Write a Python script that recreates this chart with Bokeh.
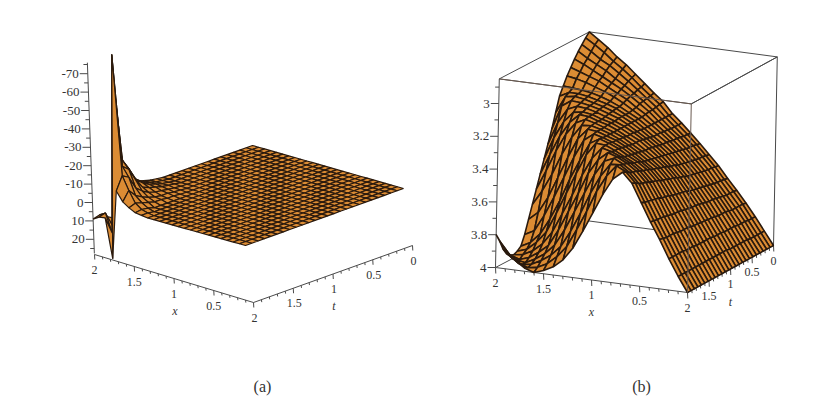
from bokeh.plotting import figure
from bokeh.models import Range1d
from bokeh.core.properties import value
from bokeh.embed import file_html
from bokeh.resources import INLINE
import numpy as np

# ---------- panel (a): z, t=2.00 first, x=2.00 first; the rest is the flat plateau 0
A_T200 = [9, 7, 6.5, 27.7, -10, -5, -2.7, -1, -.5]
A_T192 = [8, 6, 16, -82, -17, -10, -4, -1.5, -.5]
A_T184 = [10, 14, -67, -20, -15, -6, -3, -1]
A_T176 = [12, -36, -21, -17, -8, -4, -2]
A_T168 = [-13, -18, -15, -10, -5, -2.5, -1]
A_T160 = [-9, -10, -8, -5, -3, -1.5, -1]
A_T152 = [-5, -6, -5, -3.5, -2, -1, -.5]
A_T144 = [-3, -3.5, -3, -2.5, -1.5, -1, -.5]
A_T136 = [-2, -2, -2, -1.5, -1, -.5, -.2]
A_T128 = [-1, -1, -1, -1, -.5, -.3]
A_T120 = [-.5, -.5, -.5, -.5, -.2]
A_ROWS = [A_T200, A_T192, A_T184, A_T176, A_T168, A_T160, A_T152, A_T144, A_T136, A_T128, A_T120]
A_CELLS = 25
A_Z_TICKS = [-70, -60, -50, -40, -30, -20, -10, 0, 10, 20]
A_Z_MINOR = [-75, -65, -55, -45, -35, -25, -15, -5, 5, 15, 25]
A_Z_SPAN = [-76, 27.7]

# ---------- panel (b): distance below z=4; x = 0.0 ... 2.0 in each row
B_T000 = [0, .08, .16, .235, .305, .37, .44, .50, .56, .615, .67, .72, .785, .83, .88, .93, .98, 1.02, 1.07, 1.11, 1.15]
B_T008 = [0, .08, .16, .24, .31, .375, .445, .505, .565, .62, .67, .72, .78, .825, .87, .92, .965, 1.005, 1.05, 1.09, 1.125]
B_T016 = [0, .08, .16, .24, .31, .38, .45, .51, .57, .62, .67, .72, .775, .82, .865, .91, .95, .99, 1.02, 1.06, 1.095]
B_T024 = [0, .08, .165, .24, .31, .38, .45, .51, .57, .625, .67, .72, .77, .815, .855, .895, .93, .97, 1.00, 1.03, 1.065]
B_T032 = [0, .08, .165, .24, .315, .385, .455, .515, .575, .63, .675, .72, .77, .81, .85, .885, .915, .945, .975, 1.005, 1.03]
B_T040 = [0, .085, .165, .245, .32, .39, .46, .52, .58, .63, .675, .72, .765, .80, .84, .87, .90, .93, .95, .97, .99]
B_T048 = [0, .085, .17, .25, .325, .395, .465, .525, .585, .635, .68, .72, .76, .795, .83, .86, .885, .905, .925, .94, .95]
B_T056 = [0, .085, .17, .25, .33, .40, .47, .53, .59, .64, .68, .72, .76, .79, .82, .845, .865, .88, .89, .895, .90]
B_T064 = [0, .085, .17, .25, .33, .405, .475, .535, .595, .64, .68, .72, .76, .79, .82, .84, .855, .87, .88, .88, .85]
B_T072 = [0, .085, .17, .255, .335, .41, .48, .54, .60, .645, .685, .725, .76, .79, .815, .835, .85, .865, .875, .865, .76]
B_T080 = [0, .085, .175, .26, .34, .415, .49, .55, .605, .65, .69, .725, .76, .79, .81, .83, .845, .855, .86, .82, .67]
B_T088 = [0, .09, .175, .26, .345, .42, .495, .555, .61, .655, .695, .73, .76, .785, .805, .825, .84, .845, .82, .73, .59]
B_T096 = [0, .09, .175, .265, .35, .43, .505, .565, .615, .66, .70, .73, .76, .785, .80, .82, .83, .82, .755, .65, .51]
B_T104 = [0, .09, .18, .265, .35, .435, .515, .575, .62, .66, .70, .73, .76, .785, .80, .82, .825, .77, .68, .56, .43]
B_T112 = [0, .09, .18, .27, .355, .44, .52, .58, .625, .665, .70, .735, .76, .78, .80, .815, .785, .71, .60, .47, .35]
B_T120 = [0, .09, .18, .27, .36, .445, .53, .59, .63, .67, .705, .735, .76, .78, .795, .79, .71, .60, .47, .36, .27]
B_T128 = [0, .09, .18, .275, .365, .45, .535, .595, .635, .675, .71, .74, .76, .78, .785, .72, .60, .47, .34, .24, .19]
B_T136 = [0, .09, .18, .28, .37, .46, .545, .605, .645, .68, .715, .74, .76, .775, .73, .62, .49, .36, .24, .14, .11]
B_T144 = [0, .09, .185, .28, .37, .465, .555, .615, .655, .685, .72, .745, .765, .73, .62, .50, .36, .24, .14, .08, .05]
B_T152 = [0, .09, .185, .28, .375, .47, .56, .62, .66, .69, .72, .745, .75, .67, .55, .42, .29, .17, .10, .05, .03]
B_T160 = [0, .09, .185, .285, .38, .48, .57, .63, .67, .70, .725, .74, .67, .56, .43, .31, .19, .11, .06, .03, .02]
B_T168 = [0, .09, .19, .29, .385, .485, .58, .64, .68, .71, .73, .68, .59, .46, .34, .22, .12, .07, .03, .01, .03]
B_T176 = [0, .09, .19, .29, .39, .49, .585, .645, .685, .715, .69, .60, .48, .36, .24, .14, .08, .04, .01, .02, .05]
B_T184 = [0, .09, .19, .29, .39, .495, .595, .655, .695, .69, .61, .50, .37, .25, .15, .09, .05, .02, .01, .04, .09]
B_T192 = [0, .09, .19, .295, .395, .50, .61, .67, .70, .63, .53, .40, .28, .17, .10, .05, .02, .01, .03, .08, .15]
B_T200 = [0, .09, .19, .30, .40, .51, .62, .68, .63, .53, .41, .29, .18, .10, .05, .02, 0, .02, .06, .11, .20]
B_ROWS = [B_T000, B_T008, B_T016, B_T024, B_T032, B_T040, B_T048, B_T056, B_T064, B_T072, B_T080, B_T088, B_T096,
          B_T104, B_T112, B_T120, B_T128, B_T136, B_T144, B_T152, B_T160, B_T168, B_T176, B_T184, B_T192, B_T200]
B_Z_TICKS = [3, 3.2, 3.4, 3.6, 3.8, 4]
B_Z_MINOR = [2.9, 3.1, 3.3, 3.5, 3.7, 3.9]
B_Z_SPAN = [2.85, 4.0]

X_TICKS = [2, 1.5, 1, 0.5]
T_TICKS = [2, 1.5, 1, 0.5, 0]
MINOR = [0.1, 0.2, 0.3, 0.4, 0.6, 0.7, 0.8, 0.9, 1.1, 1.2, 1.3, 1.4, 1.6, 1.7, 1.8, 1.9]
CAPTIONS = ["(a)", "(b)"]

ORANGE = "#DC8C34"
MESH = "#2a1a0e"
AXIS = "#4a4a4a"
TXT = "#333333"
SERIF_VALUE = value("Liberation Serif")


def bilinear(x, t, c):
    """c: screen corners (x=2,t=2), (x=0,t=2), (x=0,t=0), (x=2,t=0)."""
    u, v = x / 2.0, t / 2.0
    return ((u * v * c[0][0] + (1 - u) * v * c[1][0] + (1 - u) * (1 - v) * c[2][0] + u * (1 - v) * c[3][0]),
            (u * v * c[0][1] + (1 - u) * v * c[1][1] + (1 - u) * (1 - v) * c[2][1] + u * (1 - v) * c[3][1]))


PLANE_A = [(92, 202), (245, 245), (403, 188), (252, 145)]
FLOOR_A = [(94, 254), (253, 302), (412, 245), (253, 197)]
FLOOR_B = [(495, 267), (687, 292), (773, 245), (585, 220)]


def map_a(x, t, z):
    a, b = bilinear(x, t, PLANE_A)
    return a + 0.0675 * z, b + 1.84 * z


def map_b(x, t, z):
    a, b = bilinear(x, t, FLOOR_B)
    return a + 3.3 * (4 - z), b - 164 * (4 - z)


def floor_a(x, t):
    return bilinear(x, t, FLOOR_A)


def floor_b(x, t):
    return bilinear(x, t, FLOOR_B)


def quads(X, T, Z, mapper):
    out = []
    for r in range(len(T) - 1):
        for c in range(len(X) - 1):
            idx = [(r, c), (r, c + 1), (r + 1, c + 1), (r + 1, c)]
            pts = [mapper(X[j], T[i], Z[i][j]) for i, j in idx]
            depth = np.mean([T[i] - X[j] for i, j in idx])
            out.append((depth, [q[0] for q in pts], [q[1] for q in pts]))
    out.sort(key=lambda q: q[0])
    return [q[1] for q in out], [q[2] for q in out]


p = figure(width=803, height=399, x_range=Range1d(0, 803), y_range=Range1d(399, 0),
           toolbar_location=None, output_backend="svg", min_border=0)
p.axis.visible = False
p.grid.visible = False
p.outline_line_color = None


def seg(p0, p1, color=AXIS, w=1.0):
    p.line([p0[0], p1[0]], [p0[1], p1[1]], line_color=color, line_width=w)


def label(s, pos, dx=0, dy=0, size="12px", style="normal", align="center"):
    p.text([pos[0] + dx], [pos[1] + dy], text=[s], text_font_size=size, text_color=TXT,
           text_align=align, text_baseline="middle", text_font=SERIF_VALUE, text_font_style=style)


def floor_axes(floor, xdx, xdy, tdx, tdy, major, minor):
    seg(floor(2, 2), floor(0, 2))
    seg(floor(0, 2), floor(0, 0))
    for v in MINOR:
        a = floor(v, 2)
        seg(a, (a[0] + 0.3, a[1] + minor))
        a = floor(0, v)
        seg(a, (a[0] + 0.3, a[1] + minor))
    for v in X_TICKS:
        a = floor(v, 2)
        seg(a, (a[0] + 0.3, a[1] + major))
        label(f"{v:g}", a, xdx, xdy)
    for v in T_TICKS:
        a = floor(0, v)
        seg(a, (a[0] + 0.3, a[1] + major))
        label(f"{v:g}", a, tdx, tdy)


# ---------- panel (a)
xa = [2 - 2 * i / A_CELLS for i in range(A_CELLS + 1)]
ta = [2 - 2 * i / A_CELLS for i in range(A_CELLS + 1)]
za = np.zeros((A_CELLS + 1, A_CELLS + 1))
for r, row in enumerate(A_ROWS):
    za[r, :len(row)] = row

seg(map_a(2, 2, A_Z_SPAN[0]), map_a(2, 2, A_Z_SPAN[1]))
for v in A_Z_MINOR:
    a = map_a(2, 2, v)
    seg(a, (a[0] - 4, a[1]))
for v in A_Z_TICKS:
    a = map_a(2, 2, v)
    seg(a, (a[0] - 8, a[1]))
    label(f"{v:g}", a, -9, 0, size="13px", align="right")
floor_axes(floor_a, 0, 15, 1, 15, 5, 2.5)
label("x", floor_a(1, 2), 1, 32, size="12px", style="italic")
label("t", floor_a(0, 1), 1, 32, size="12px", style="italic")
xs, ys = quads(xa, ta, za, map_a)
p.patches(xs, ys, fill_color=ORANGE, line_color=MESH, line_width=1.2)

# ---------- panel (b)
xb = [i / 10 for i in range(21)]
tb = [i * 0.08 for i in range(26)]
zb = 4 - np.array(B_ROWS)

top, bot = B_Z_SPAN
for a0, a1 in [((2, 2), (0, 2)), ((0, 2), (0, 0)), ((0, 0), (2, 0)), ((2, 0), (2, 2))]:
    seg(map_b(*a0, top), map_b(*a1, top))
seg(map_b(2, 0, bot), map_b(2, 2, bot))
seg(map_b(2, 0, bot), map_b(0, 0, bot))
seg(map_b(2, 2, top), map_b(2, 2, bot))
seg(map_b(0, 0, top), map_b(0, 0, bot))
for v in B_Z_MINOR:
    a = map_b(2, 2, v)
    seg(a, (a[0] - 4, a[1]))
for v in B_Z_TICKS:
    a = map_b(2, 2, v)
    seg(a, (a[0] - 8, a[1]))
    label(f"{v:g}", a, -9, 0, size="13px", align="right")
floor_axes(floor_b, 0, 15, 0, 15, 6, 3)
label("x", floor_b(1, 2), 0, 32, size="12px", style="italic")
label("t", floor_b(0, 1), 0, 33, size="12px", style="italic")
xs, ys = quads(xb, tb, zb, map_b)
p.patches(xs, ys, fill_color=ORANGE, line_color=MESH, line_width=1.6)
# box edges in front of the surface
seg(map_b(2, 2, top), map_b(0, 2, top), color="#6a5a50")
seg(map_b(0, 2, top), map_b(0, 0, top))
seg(map_b(0, 2, top), map_b(0, 2, bot), color="#6a5a50")

# ---------- captions
label(CAPTIONS[0], (262, 386), size="16px")
label(CAPTIONS[1], (641, 386), size="16px")

open("out.html", "w").write(file_html(p, INLINE))
